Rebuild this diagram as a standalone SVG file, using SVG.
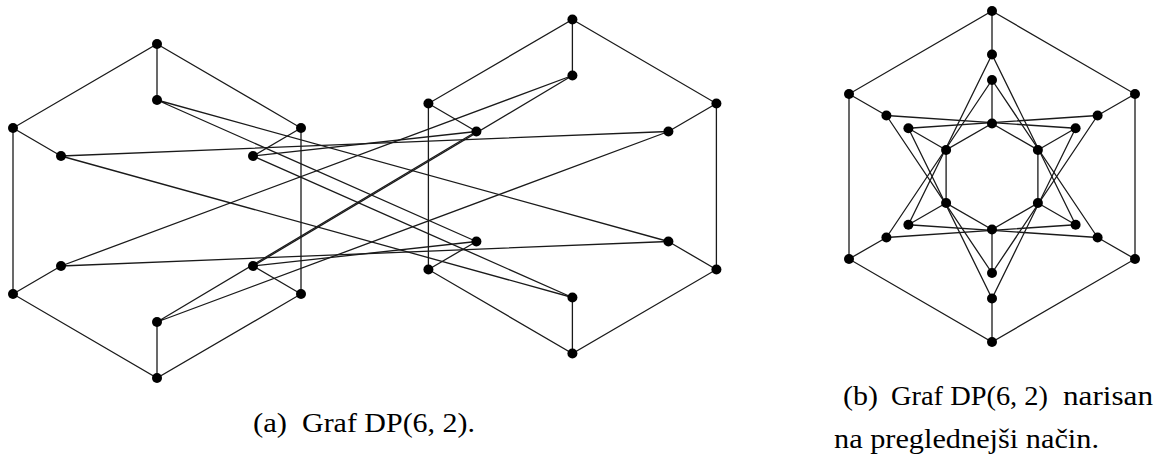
<svg xmlns="http://www.w3.org/2000/svg" width="1157" height="457" viewBox="0 0 1157 457">
<style>
.e{stroke:#1a1a1a;stroke-width:1.3;fill:none;stroke-linecap:round}
.n{fill:#000}
.cap{font-family:"Liberation Serif","DejaVu Serif",serif;font-size:27px;fill:#000}
</style>
<rect width="1157" height="457" fill="#fff"/>
<g id="connectors" class="e">
<path d="M157,44 L301,128 L301,294 L157,378 L13,294 L13,128 Z"/>
<path d="M157,44 L157,100 M301,128 L253,156 M301,294 L253,266 M157,378 L157,322 M13,294 L61,266 M13,128 L61,156"/>
<path d="M572.4,19.5 L716.4,103.5 L716.4,269.5 L572.4,353.5 L428.4,269.5 L428.4,103.5 Z"/>
<path d="M572.4,19.5 L572.4,75.5 M716.4,103.5 L668.4,131.5 M716.4,269.5 L668.4,241.5 M572.4,353.5 L572.4,297.5 M428.4,269.5 L476.4,241.5 M428.4,103.5 L476.4,131.5"/>
<path d="M157,100 L668.4,241.5 M157,100 L476.4,241.5"/>
<path d="M253,156 L572.4,297.5 M253,156 L476.4,131.5"/>
<path d="M253,266 L476.4,241.5 M253,266 L572.4,75.5"/>
<path d="M157,322 L476.4,131.5 M157,322 L668.4,131.5"/>
<path d="M61,266 L572.4,75.5 M61,266 L668.4,241.5"/>
<path d="M61,156 L668.4,131.5 M61,156 L572.4,297.5"/>
<path d="M992,11 L1135,94 L1135,259 L992,342 L849,259 L849,94 Z"/>
<path d="M992,11 L992,54.5 M1135,94 L1097.6,115.5 M1135,259 L1097.6,237.5 M992,342 L992,298.5 M849,259 L886.4,237.5 M849,94 L886.4,115.5"/>
<path d="M992,123.5 L1037.9,150 L1037.9,203 L992,229.5 L946.1,203 L946.1,150 Z"/>
<path d="M992,123.5 L992,80 M1037.9,150 L1075.6,128.25 M1037.9,203 L1075.6,224.75 M992,229.5 L992,273 M946.1,203 L908.4,224.75 M946.1,150 L908.4,128.25"/>
<path d="M992,54.5 L1075.6,224.75 M992,54.5 L908.4,224.75"/>
<path d="M1097.6,115.5 L992,273 M1097.6,115.5 L908.4,128.25"/>
<path d="M1097.6,237.5 L908.4,224.75 M1097.6,237.5 L992,80"/>
<path d="M992,298.5 L908.4,128.25 M992,298.5 L1075.6,128.25"/>
<path d="M886.4,237.5 L992,80 M886.4,237.5 L1075.6,224.75"/>
<path d="M886.4,115.5 L1075.6,128.25 M886.4,115.5 L992,273"/>
</g>
<g id="a-x0"><circle class="n" cx="157" cy="44" r="5"/></g>
<g id="a-x1"><circle class="n" cx="301" cy="128" r="5"/></g>
<g id="a-x2"><circle class="n" cx="301" cy="294" r="5"/></g>
<g id="a-x3"><circle class="n" cx="157" cy="378" r="5"/></g>
<g id="a-x4"><circle class="n" cx="13" cy="294" r="5"/></g>
<g id="a-x5"><circle class="n" cx="13" cy="128" r="5"/></g>
<g id="a-u0"><circle class="n" cx="157" cy="100" r="5"/></g>
<g id="a-u1"><circle class="n" cx="253" cy="156" r="5"/></g>
<g id="a-u2"><circle class="n" cx="253" cy="266" r="5"/></g>
<g id="a-u3"><circle class="n" cx="157" cy="322" r="5"/></g>
<g id="a-u4"><circle class="n" cx="61" cy="266" r="5"/></g>
<g id="a-u5"><circle class="n" cx="61" cy="156" r="5"/></g>
<g id="a-y0"><circle class="n" cx="572.4" cy="19.5" r="5"/></g>
<g id="a-y1"><circle class="n" cx="716.4" cy="103.5" r="5"/></g>
<g id="a-y2"><circle class="n" cx="716.4" cy="269.5" r="5"/></g>
<g id="a-y3"><circle class="n" cx="572.4" cy="353.5" r="5"/></g>
<g id="a-y4"><circle class="n" cx="428.4" cy="269.5" r="5"/></g>
<g id="a-y5"><circle class="n" cx="428.4" cy="103.5" r="5"/></g>
<g id="a-v0"><circle class="n" cx="572.4" cy="75.5" r="5"/></g>
<g id="a-v1"><circle class="n" cx="668.4" cy="131.5" r="5"/></g>
<g id="a-v2"><circle class="n" cx="668.4" cy="241.5" r="5"/></g>
<g id="a-v3"><circle class="n" cx="572.4" cy="297.5" r="5"/></g>
<g id="a-v4"><circle class="n" cx="476.4" cy="241.5" r="5"/></g>
<g id="a-v5"><circle class="n" cx="476.4" cy="131.5" r="5"/></g>
<g id="b-x0"><circle class="n" cx="992" cy="11" r="5"/></g>
<g id="b-x1"><circle class="n" cx="1135" cy="94" r="5"/></g>
<g id="b-x2"><circle class="n" cx="1135" cy="259" r="5"/></g>
<g id="b-x3"><circle class="n" cx="992" cy="342" r="5"/></g>
<g id="b-x4"><circle class="n" cx="849" cy="259" r="5"/></g>
<g id="b-x5"><circle class="n" cx="849" cy="94" r="5"/></g>
<g id="b-u0"><circle class="n" cx="992" cy="54.5" r="5"/></g>
<g id="b-u1"><circle class="n" cx="1097.6" cy="115.5" r="5"/></g>
<g id="b-u2"><circle class="n" cx="1097.6" cy="237.5" r="5"/></g>
<g id="b-u3"><circle class="n" cx="992" cy="298.5" r="5"/></g>
<g id="b-u4"><circle class="n" cx="886.4" cy="237.5" r="5"/></g>
<g id="b-u5"><circle class="n" cx="886.4" cy="115.5" r="5"/></g>
<g id="b-y0"><circle class="n" cx="992" cy="123.5" r="5"/></g>
<g id="b-y1"><circle class="n" cx="1037.9" cy="150" r="5"/></g>
<g id="b-y2"><circle class="n" cx="1037.9" cy="203" r="5"/></g>
<g id="b-y3"><circle class="n" cx="992" cy="229.5" r="5"/></g>
<g id="b-y4"><circle class="n" cx="946.1" cy="203" r="5"/></g>
<g id="b-y5"><circle class="n" cx="946.1" cy="150" r="5"/></g>
<g id="b-v0"><circle class="n" cx="992" cy="80" r="5"/></g>
<g id="b-v1"><circle class="n" cx="1075.6" cy="128.25" r="5"/></g>
<g id="b-v2"><circle class="n" cx="1075.6" cy="224.75" r="5"/></g>
<g id="b-v3"><circle class="n" cx="992" cy="273" r="5"/></g>
<g id="b-v4"><circle class="n" cx="908.4" cy="224.75" r="5"/></g>
<g id="b-v5"><circle class="n" cx="908.4" cy="128.25" r="5"/></g>
<g id="captions" class="cap">
<text y="432"><tspan x="253" textLength="34" lengthAdjust="spacingAndGlyphs">(a)</tspan><tspan x="302" textLength="173" lengthAdjust="spacingAndGlyphs">Graf DP(6, 2).</tspan></text>
<text y="405"><tspan x="843" textLength="35" lengthAdjust="spacingAndGlyphs">(b)</tspan><tspan x="891" textLength="157" lengthAdjust="spacingAndGlyphs">Graf DP(6, 2)</tspan><tspan x="1063" textLength="90" lengthAdjust="spacingAndGlyphs">narisan</tspan></text>
<text x="834" y="448" textLength="265" lengthAdjust="spacingAndGlyphs">na preglednejši način.</text>
</g>
</svg>
